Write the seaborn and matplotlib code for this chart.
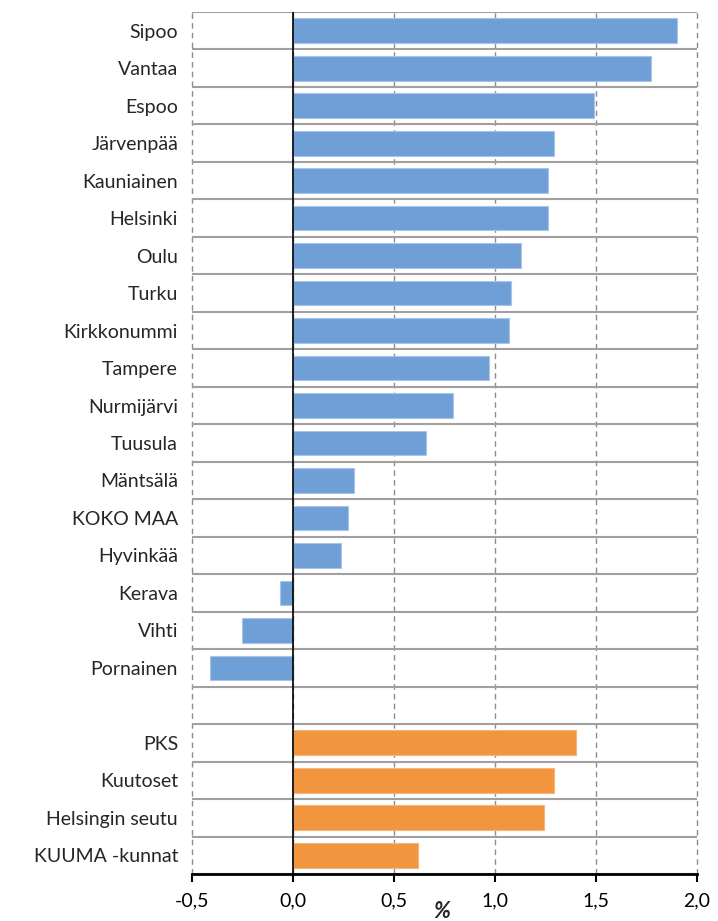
import matplotlib
matplotlib.use("Agg")
import matplotlib.pyplot as plt
import seaborn as sns
import pandas as pd
from matplotlib.ticker import FuncFormatter

# municipalities (blue) and regions (orange)
kunnat = ["Sipoo", "Vantaa", "Espoo", "Järvenpää", "Kauniainen", "Helsinki",
          "Oulu", "Turku", "Kirkkonummi", "Tampere", "Nurmijärvi", "Tuusula",
          "Mäntsälä", "KOKO MAA", "Hyvinkää", "Kerava", "Vihti", "Pornainen"]
kunnat_arvot = [1.90, 1.77, 1.49, 1.29, 1.26, 1.26, 1.13, 1.08, 1.07, 0.97,
                0.79, 0.66, 0.30, 0.27, 0.24, -0.065, -0.25, -0.41]

alueet = ["PKS", "Kuutoset", "Helsingin seutu", "KUUMA -kunnat"]
alueet_arvot = [1.40, 1.29, 1.24, 0.62]

xticks = [-0.5, 0.0, 0.5, 1.0, 1.5, 2.0]

df = pd.DataFrame({
    "alue": kunnat + alueet,
    "muutos": kunnat_arvot + alueet_arvot,
    "ryhma": ["kunta"] * len(kunnat) + ["seutu"] * len(alueet),
})
order = kunnat + [" "] + alueet

sns.set_style("white")
plt.rcParams["font.family"] = ["Lato", "DejaVu Sans"]

fig = plt.figure(figsize=(7.18, 9.21), dpi=100)
ax = fig.add_axes([0.2674, 0.051, 0.7034, 0.936])

sns.barplot(data=df, y="alue", x="muutos", hue="ryhma", order=order,
            palette={"kunta": "#6E9FD6", "seutu": "#F2953F"}, saturation=1,
            dodge=False, width=0.66, orient="h", legend=False, ax=ax,
            edgecolor="#A9C4E8", linewidth=0.8, zorder=3)
for p in ax.patches:
    if p.get_facecolor()[0] > 0.8:
        p.set_edgecolor("#F6B57A")

ax.set_xlim(-0.5, 2.0)
ax.set_ylim(len(order) - 0.5, -0.5)
ax.set_xticks(xticks)
ax.xaxis.set_major_formatter(FuncFormatter(lambda v, _: f"{v:.1f}".replace(".", ",")))

# dashed vertical grid, solid row separators
for v in xticks:
    ax.axvline(v, color="#8C8C8C", lw=1.0, ls=(0, (4, 3)), zorder=1, clip_on=False)
for i in range(len(order) + 1):
    ax.axhline(i - 0.5, color="#A0A0A0", lw=1.5, zorder=1)
ax.axvline(0, color="black", lw=1.2, zorder=4)

for s in ["top", "right", "left"]:
    ax.spines[s].set_visible(False)
ax.spines["bottom"].set_color("black")
ax.spines["bottom"].set_linewidth(2)
ax.spines["bottom"].set_zorder(5)

ax.tick_params(axis="x", direction="out", length=6, width=1.5, colors="black",
               labelsize=14, pad=7, bottom=True)
ax.tick_params(axis="y", length=0, labelsize=14, pad=10)
ax.set_xlabel("")
ax.set_ylabel("")

fig.text(442 / 718, 1 - 911 / 921, "%", fontsize=16, fontweight="bold",
         fontstyle="italic", ha="center", va="center")

fig.savefig("out.png", dpi=100)
